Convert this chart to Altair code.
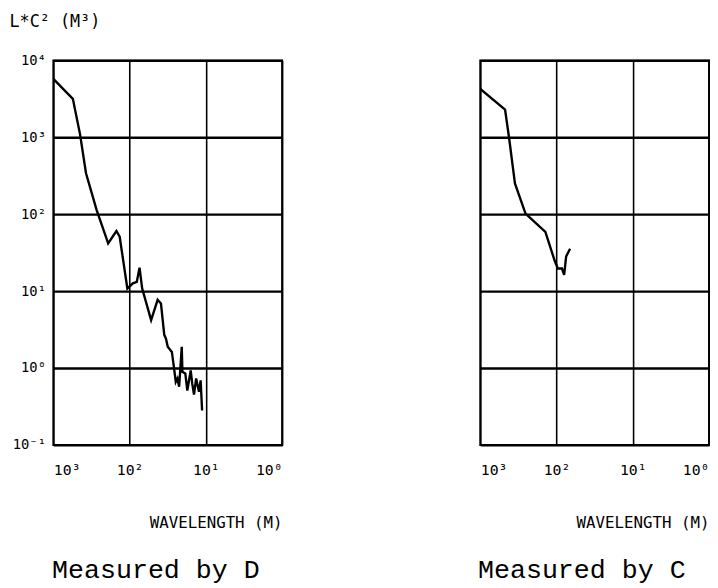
import altair as alt
import pandas as pd

# Measured by D
wavelength_d = [1000, 555, 447, 373, 271, 191, 149, 135, 107, 90.6, 80.4, 74.1, 68.4,
                52.2, 42.9, 38.8, 35.1, 33.3, 31.6, 27.9, 26.1, 24.8, 23.6, 22.4,
                20.7, 20.3, 18.6, 17.5, 15.8, 15.1, 14.3, 13.4, 12.3, 11.7, 11.2]
value_d = [5750, 3160, 1100, 341, 114, 41.8, 60.5, 51, 10.8, 12.6, 13.2, 20.2, 10.8,
           4.2, 7.7, 6.9, 2.7, 2.4, 1.89, 1.62, 0.99, 0.66, 0.73, 0.57,
           1.89, 0.89, 0.85, 0.51, 0.93, 0.63, 0.45, 0.73, 0.49, 0.69, 0.28]

# Measured by C
wavelength_c = [1000, 473, 420, 351, 255, 140, 106, 96, 85, 79.4, 74.8, 66.4]
value_c = [4250, 2290, 1000, 251, 102, 59, 25, 19.7, 19.7, 16.2, 28.2, 35.5]

x_ticks = [1000, 100, 10, 1]
y_ticks = [0.1, 1, 10, 100, 1000, 10000]
panel_titles = ["Measured by D", "Measured by C"]

x_label_expr = ("datum.value > 500 ? '10³' : datum.value > 50 ? '10²' : "
                "datum.value > 5 ? '10¹' : '10⁰'")
y_label_expr = ("datum.value > 5000 ? '10⁴' : datum.value > 500 ? '10³' : "
                "datum.value > 50 ? '10²' : datum.value > 5 ? '10¹' : "
                "datum.value > 0.5 ? '10⁰' : '10⁻¹'")

W, H = 232, 390
LABEL_FONT = "DejaVu Sans Mono"


def make_df(wl, val):
    return pd.DataFrame({"wavelength": wl, "value": val, "i": list(range(len(wl)))})


def panel(df, title, show_y, dx):
    x = alt.X(
        "wavelength:Q",
        scale=alt.Scale(type="log", domain=[1, 1000], reverse=True),
        axis=alt.Axis(
            values=x_ticks, labelExpr=x_label_expr, gridWidth=1.6,
            labelPadding=18, labelFontSize=15,
            title="WAVELENGTH (M)", titleAlign="right", titleX=W, titleY=79,
            titleBaseline="middle", titleFont=LABEL_FONT, titleFontSize=16,
            titleFontWeight="normal",
        ),
    )
    if show_y:
        y_axis = alt.Axis(
            values=y_ticks, labelExpr=y_label_expr, gridWidth=2.4,
            labelPadding=8, labelFontSize=14,
            title="L*C² (M³)", titleAngle=0, titleAlign="left", titleX=-45,
            titleY=-39, titleBaseline="middle", titleFont=LABEL_FONT,
            titleFontSize=17, titleFontWeight="normal",
        )
    else:
        y_axis = alt.Axis(values=y_ticks, labels=False, gridWidth=2.4, title=None)
    y = alt.Y("value:Q", scale=alt.Scale(type="log", domain=[0.1, 10000]), axis=y_axis)
    return (
        alt.Chart(df)
        .mark_line(color="black", strokeWidth=2.4, clip=True)
        .encode(x=x, y=y, order="i:Q")
        .properties(
            width=W, height=H,
            title=alt.TitleParams(
                title, orient="bottom", anchor="middle", font="Liberation Mono",
                fontSize=27, fontWeight="normal", color="black", offset=27, dx=dx,
            ),
        )
    )


left = panel(make_df(wavelength_d, value_d), panel_titles[0], True, -12)
right = panel(make_df(wavelength_c, value_c), panel_titles[1], False, -13)

chart = (
    alt.hconcat(left, right, spacing=196)
    .properties(padding=0, background="white")
    .configure_view(stroke="black", strokeWidth=2)
    .configure_axis(
        gridColor="black", gridOpacity=1, domain=False, ticks=False,
        labelFont=LABEL_FONT, labelColor="black", titleColor="black",
    )
)

chart.save("out.html", embed_options={"renderer": "svg", "actions": False})
